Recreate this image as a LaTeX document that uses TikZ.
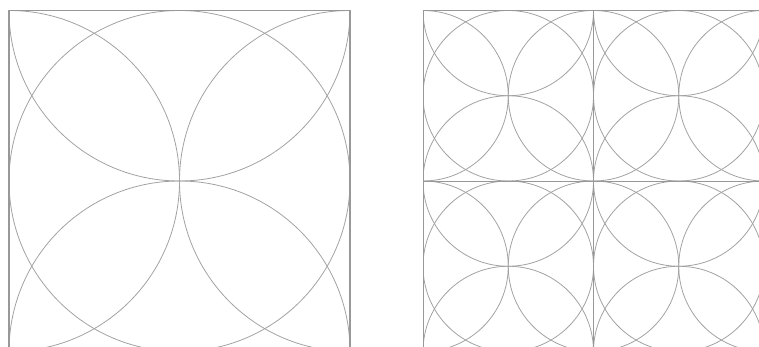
\documentclass[tikz,border=0pt]{standalone}
\usepackage{tikz}
\definecolor{Frame}{HTML}{989898}
\definecolor{Arc}{HTML}{A2A2A2}
\tikzset{
  tilearc/.style={draw=Arc,line width=.8pt},
  tileframe/.style={draw=Frame,line width=#1},
  tileframe/.default=1.6pt
}
% one square tile: top left corner (#1,#2), side #3, frame width #4
\newcommand{\flowertile}[4]{%
  \begin{scope}
    \clip (#1,#2) rectangle ++(#3,#3);
    \draw[tilearc] (#1+#3/2,#2+#3/2) circle[radius={#3/2}];
    \draw[tilearc] (#1+#3/2,#2) circle[radius={#3/2}];
    \draw[tilearc] (#1+#3/2,#2+#3) circle[radius={#3/2}];
    \draw[tilearc] (#1,#2+#3/2) circle[radius={#3/2}];
    \draw[tilearc] (#1+#3,#2+#3/2) circle[radius={#3/2}];
  \end{scope}
  \draw[tileframe=#4] (#1,#2) rectangle ++(#3,#3);
}

\begin{document}
\begin{tikzpicture}[x=1pt,y=-1pt]
\useasboundingbox (0,0) rectangle (759,347);
\clip (0,0) rectangle (759,347);
% single tile
\flowertile{9}{10.5}{341}{1.6pt}
% the same tile, 2 x 2
\foreach \i in {0,1}
  \foreach \j in {0,1}
    {\flowertile{423+\i*170.5}{10.5+\j*170.5}{170.5}{.8pt}}
\end{tikzpicture}
\end{document}
